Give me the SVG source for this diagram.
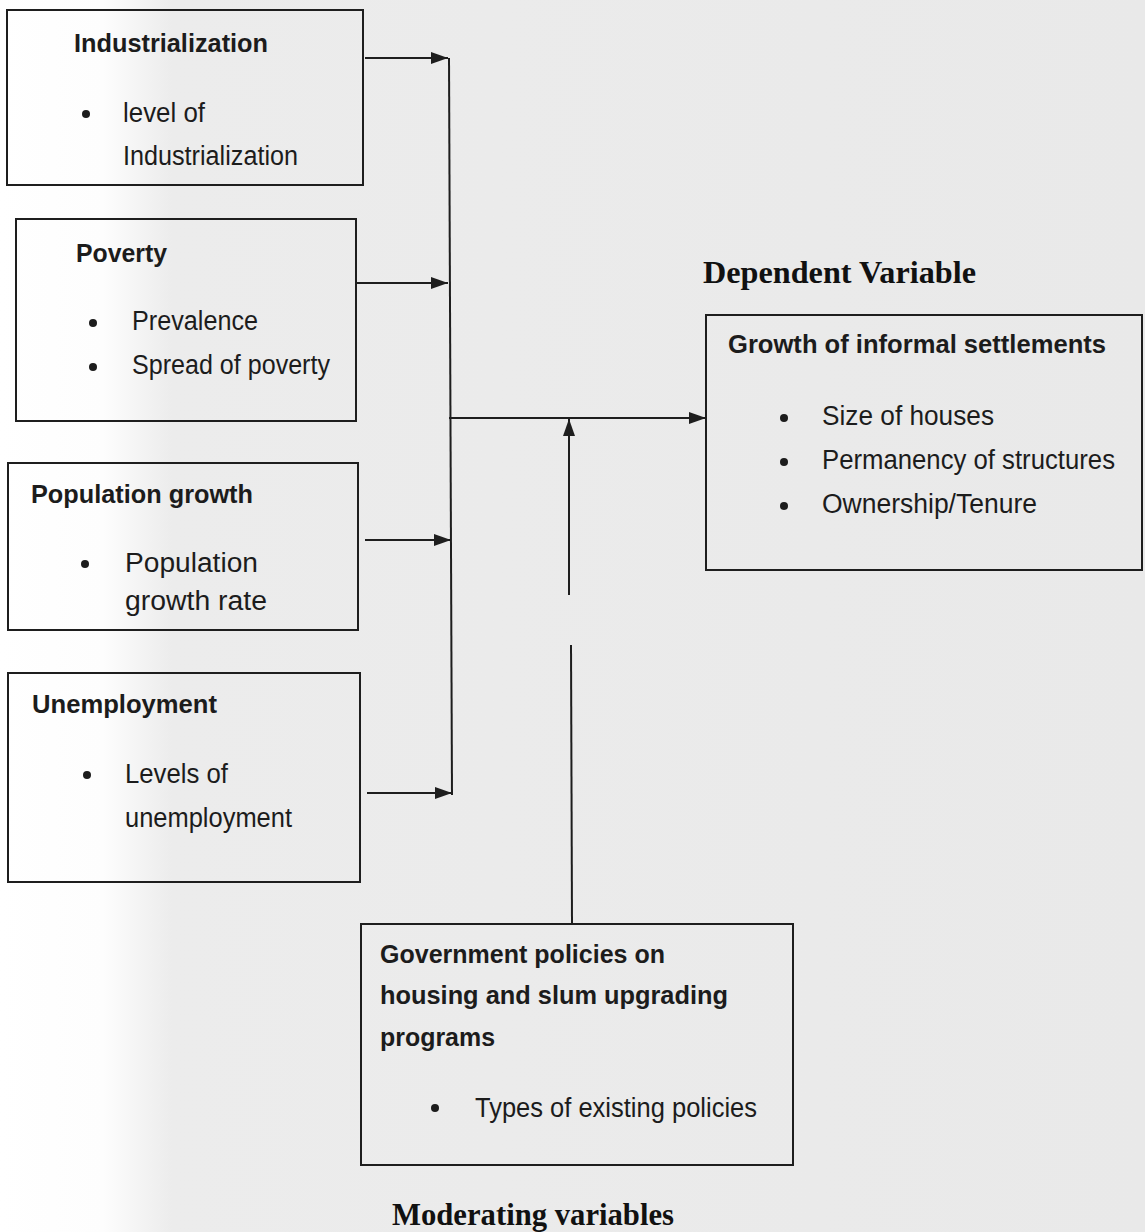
<svg xmlns="http://www.w3.org/2000/svg" width="1145" height="1232" viewBox="0 0 1145 1232">
<style>
.box{fill:none;stroke:#1e1e1e;stroke-width:2}
.ln{fill:none;stroke:#1e1e1e;stroke-width:2}
.t{font-family:"Liberation Sans",Arial,sans-serif;font-size:27px;fill:#1c1c1c}
.b{font-weight:bold;font-size:26px}
.s{font-family:"Liberation Serif","Times New Roman",serif;font-weight:bold;font-size:31px;fill:#111}
.dot{fill:#1c1c1c}
</style>
<defs>
<linearGradient id="bg" x1="0" y1="0" x2="1" y2="0">
<stop offset="0" stop-color="#ffffff"/>
<stop offset="0.09" stop-color="#fdfdfd"/>
<stop offset="0.15" stop-color="#ececec"/>
<stop offset="1" stop-color="#e9e9e9"/>
</linearGradient>
<marker id="ah" viewBox="0 0 17 12" refX="17" refY="6" markerWidth="17" markerHeight="12" markerUnits="userSpaceOnUse" orient="auto">
<path d="M0,0 L17,6 L0,12 Z" fill="#1e1e1e"/>
</marker>
</defs>
<rect x="0" y="0" width="1145" height="1232" fill="url(#bg)"/>

<g id="connectors">
<line class="ln" x1="449" y1="58" x2="452" y2="795"/>
<line class="ln" x1="365" y1="58" x2="448" y2="58" marker-end="url(#ah)"/>
<line class="ln" x1="356" y1="283" x2="448" y2="283" marker-end="url(#ah)"/>
<line class="ln" x1="365" y1="540" x2="451" y2="540" marker-end="url(#ah)"/>
<line class="ln" x1="367" y1="793" x2="452" y2="793" marker-end="url(#ah)"/>
<line class="ln" x1="449" y1="418" x2="706" y2="418" marker-end="url(#ah)"/>
<line class="ln" x1="569" y1="595" x2="569" y2="419" marker-end="url(#ah)"/>
<line class="ln" x1="571" y1="645" x2="572" y2="924"/>
</g>

<g id="industrialization">
<rect class="box" x="7" y="10" width="356" height="175"/>
<text class="t b" x="74" y="52" textLength="194" lengthAdjust="spacingAndGlyphs">Industrialization</text>
<circle class="dot" cx="86" cy="114" r="4"/>
<text class="t" x="123" y="122" textLength="82" lengthAdjust="spacingAndGlyphs">level of</text>
<text class="t" x="123" y="165" textLength="175" lengthAdjust="spacingAndGlyphs">Industrialization</text>
</g>

<g id="poverty">
<rect class="box" x="16" y="219" width="340" height="202"/>
<text class="t b" x="76" y="262" textLength="91" lengthAdjust="spacingAndGlyphs">Poverty</text>
<circle class="dot" cx="93" cy="323" r="4"/>
<text class="t" x="132" y="330" textLength="126" lengthAdjust="spacingAndGlyphs">Prevalence</text>
<circle class="dot" cx="93" cy="367" r="4"/>
<text class="t" x="132" y="374" textLength="198" lengthAdjust="spacingAndGlyphs">Spread of poverty</text>
</g>

<g id="population">
<rect class="box" x="8" y="463" width="350" height="167"/>
<text class="t b" x="31" y="503" textLength="222" lengthAdjust="spacingAndGlyphs">Population growth</text>
<circle class="dot" cx="85" cy="564" r="4"/>
<text class="t" x="125" y="572" textLength="133" lengthAdjust="spacingAndGlyphs">Population</text>
<text class="t" x="125" y="610" textLength="142" lengthAdjust="spacingAndGlyphs">growth rate</text>
</g>

<g id="unemployment">
<rect class="box" x="8" y="673" width="352" height="209"/>
<text class="t b" x="32" y="713" textLength="185" lengthAdjust="spacingAndGlyphs">Unemployment</text>
<circle class="dot" cx="87" cy="775" r="4"/>
<text class="t" x="125" y="783" textLength="103" lengthAdjust="spacingAndGlyphs">Levels of</text>
<text class="t" x="125" y="827" textLength="167" lengthAdjust="spacingAndGlyphs">unemployment</text>
</g>

<g id="dependent">
<text class="s" x="703" y="283" textLength="273" lengthAdjust="spacingAndGlyphs">Dependent Variable</text>
<rect class="box" x="706" y="315" width="436" height="255"/>
<text class="t b" x="728" y="353" textLength="378" lengthAdjust="spacingAndGlyphs">Growth of informal settlements</text>
<circle class="dot" cx="784" cy="418" r="4"/>
<text class="t" x="822" y="425" textLength="172" lengthAdjust="spacingAndGlyphs">Size of houses</text>
<circle class="dot" cx="784" cy="462" r="4"/>
<text class="t" x="822" y="469" textLength="293" lengthAdjust="spacingAndGlyphs">Permanency of structures</text>
<circle class="dot" cx="784" cy="506" r="4"/>
<text class="t" x="822" y="513" textLength="215" lengthAdjust="spacingAndGlyphs">Ownership/Tenure</text>
</g>

<g id="moderating">
<rect class="box" x="361" y="924" width="432" height="241"/>
<text class="t b" x="380" y="963" textLength="285" lengthAdjust="spacingAndGlyphs">Government policies on</text>
<text class="t b" x="380" y="1004" textLength="348" lengthAdjust="spacingAndGlyphs">housing and slum upgrading</text>
<text class="t b" x="380" y="1046" textLength="115" lengthAdjust="spacingAndGlyphs">programs</text>
<circle class="dot" cx="435" cy="1108" r="4"/>
<text class="t" x="475" y="1117" textLength="282" lengthAdjust="spacingAndGlyphs">Types of existing policies</text>
<text class="s" x="392" y="1225" textLength="282" lengthAdjust="spacingAndGlyphs">Moderating variables</text>
</g>
</svg>
